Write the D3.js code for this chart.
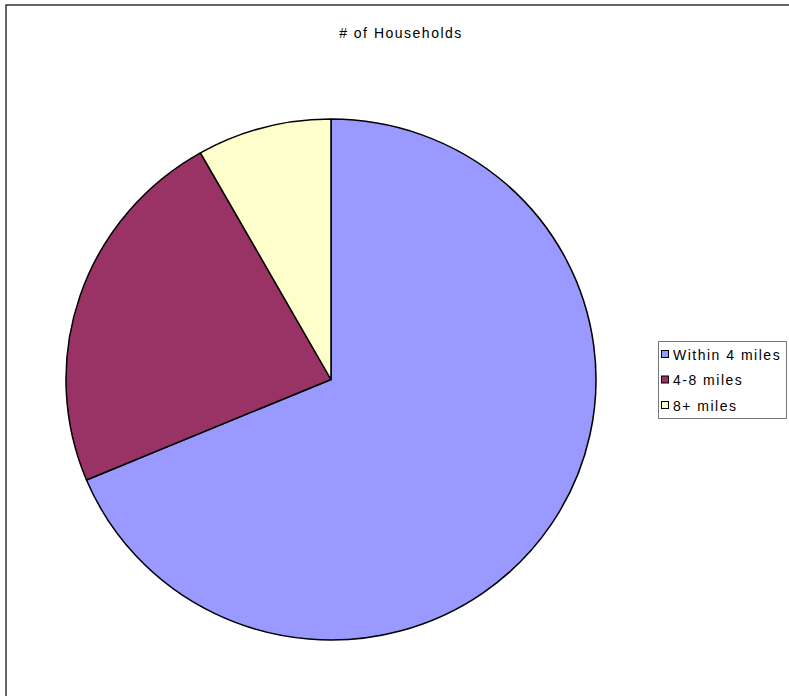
<!DOCTYPE html>
<html>
<head>
<meta charset="utf-8">
<script src="https://cdn.jsdelivr.net/npm/d3@7"></script>
<style>
  body { margin: 0; background: #fff; }
  svg { display: block; font-family: "Liberation Sans", Arial, sans-serif; }
</style>
</head>
<body>
<div id="chart"></div>
<script>
// data (share of households)
var categories = ['Within 4 miles', '4-8 miles', '8+ miles'];
var values     = [68.7, 23.1, 8.2];
var colors     = ['#9999FF', '#993366', '#FFFFCC'];

var width = 789, height = 696;
var cx = 331, cy = 379.5, radius = 260.5;
var stretchX = 265 / 260.5;   // pie is slightly wider than tall

var svg = d3.select('#chart').append('svg')
  .attr('width', width)
  .attr('height', height);

// outer chart border (runs off right / bottom edge)
svg.append('rect')
  .attr('x', 6).attr('y', 5)
  .attr('width', 800).attr('height', 720)
  .attr('fill', '#fff')
  .attr('stroke', '#333')
  .attr('stroke-width', 1.5);

svg.append('text')
  .attr('x', 401).attr('y', 38)
  .attr('text-anchor', 'middle')
  .attr('font-size', 14)
  .attr('letter-spacing', 1.5)
  .attr('fill', '#000')
  .text('# of Households');

var pie = d3.pie().sort(null).value(function(d) { return d; });
var arc = d3.arc().innerRadius(0).outerRadius(radius);

svg.append('g')
  .attr('transform', 'translate(' + cx + ',' + cy + ') scale(' + stretchX + ',1)')
  .selectAll('path')
  .data(pie(values))
  .enter().append('path')
  .attr('d', arc)
  .attr('fill', function(d, i) { return colors[i]; })
  .attr('stroke', '#000')
  .attr('stroke-width', 1.5)
  .attr('stroke-linejoin', 'round');

// legend
var legend = svg.append('g').attr('transform', 'translate(658,341)');
legend.append('rect')
  .attr('x', 0.5).attr('y', 0.5)
  .attr('width', 128).attr('height', 77)
  .attr('fill', '#fff')
  .attr('stroke', '#777')
  .attr('stroke-width', 1);

var items = legend.selectAll('g.item')
  .data(categories)
  .enter().append('g')
  .attr('class', 'item')
  .attr('transform', function(d, i) { return 'translate(0,' + (14 + i * 25.5) + ')'; });

items.append('rect')
  .attr('x', 3.5).attr('y', -4.5)
  .attr('width', 7).attr('height', 7)
  .attr('fill', function(d, i) { return colors[i]; })
  .attr('stroke', '#000')
  .attr('stroke-width', 1);

items.append('text')
  .attr('x', 15).attr('y', 4.5)
  .attr('font-size', 14)
  .attr('letter-spacing', 1.5)
  .attr('fill', '#000')
  .text(function(d) { return d; });
</script>
</body>
</html>
